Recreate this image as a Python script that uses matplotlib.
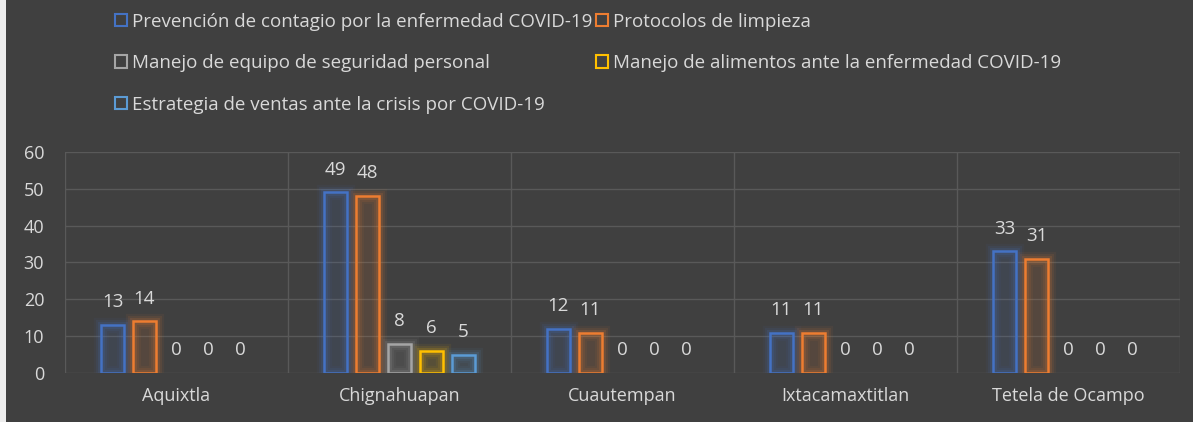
import numpy as np
import matplotlib.pyplot as plt
from matplotlib.patches import Patch, Rectangle

plt.rcParams['font.family'] = ['Open Sans', 'DejaVu Sans']

municipios = ['Aquixtla', 'Chignahuapan', 'Cuautempan', 'Ixtacamaxtitlan', 'Tetela de Ocampo']
series = ['Prevención de contagio por la enfermedad COVID-19',
          'Protocolos de limpieza',
          'Manejo de equipo de seguridad personal',
          'Manejo de alimentos ante la enfermedad COVID-19',
          'Estrategia de ventas ante la crisis por COVID-19']
prevencion = [13, 49, 12, 11, 33]
limpieza = [14, 48, 11, 11, 31]
equipo = [0, 8, 0, 0, 0]
alimentos = [0, 6, 0, 0, 0]
ventas = [0, 5, 0, 0, 0]
valores = [prevencion, limpieza, equipo, alimentos, ventas]
colores = ['#4472C4', '#ED7D31', '#A5A5A5', '#FFC000', '#5B9BD5']

bg = '#404040'
txt = '#D9D9D9'
grid = '#595959'

fig = plt.figure(figsize=(11.93, 4.22), dpi=100, facecolor=bg)
# franja clara del borde izquierdo
fig.patches.append(Rectangle((0, 0), 0.005, 1, transform=fig.transFigure,
                             facecolor='#EDEDED', edgecolor='none'))
ax = fig.add_axes([0.0545, 0.116, 0.9345, 0.524])
ax.set_facecolor(bg)

x = np.arange(len(municipios))
paso = 0.1435
ancho = 0.103
for i, (vals, col) in enumerate(zip(valores, colores)):
    pos = x + (i - 2) * paso
    v = np.array(vals)
    visibles = v > 0
    # brillo alrededor de cada barra
    for lw, a in [(11, 0.06), (8, 0.09), (5, 0.14)]:
        ax.bar(pos[visibles], v[visibles], width=ancho, facecolor='none',
               edgecolor=col, linewidth=lw, alpha=a, zorder=2)
    ax.bar(pos[visibles], v[visibles], width=ancho, facecolor=col, alpha=0.12, zorder=2)
    ax.bar(pos[visibles], v[visibles], width=ancho, facecolor='none', edgecolor=col,
           linewidth=1.8, zorder=3)
    for px, val in zip(pos, vals):
        ax.annotate(str(val), (px, val), xytext=(0, 10), textcoords='offset points',
                    ha='center', va='bottom', color=txt, fontsize=13.5)

ax.set_xlim(-0.5, len(municipios) - 0.5)
ax.set_ylim(0, 60)
ax.set_yticks(range(0, 61, 10))
ax.set_xticks(x)
ax.set_xticklabels(municipios)
ax.tick_params(colors=txt, labelsize=13, length=0)
ax.tick_params(axis='y', pad=15)
ax.tick_params(axis='x', pad=10)
for s in ax.spines.values():
    s.set_visible(False)
for y in range(0, 61, 10):
    ax.axhline(y, color=grid, linewidth=1, zorder=0)
for b in np.arange(-0.5, len(municipios), 1):
    ax.axvline(b, color=grid, linewidth=1, zorder=0)

handles = [Patch(facecolor='none', edgecolor=c, linewidth=1.5) for c in colores]
orden = [0, 2, 4, 1, 3]
fig.legend([handles[k] for k in orden], [series[k] for k in orden],
           ncol=2, loc='upper left', bbox_to_anchor=(0.082, 1.01),
           frameon=False, labelcolor=txt, fontsize=13.5,
           handlelength=0.65, handleheight=0.65, handletextpad=0.25,
           columnspacing=0.2, labelspacing=1.25)

fig.savefig('out.png', dpi=100, facecolor=bg)
